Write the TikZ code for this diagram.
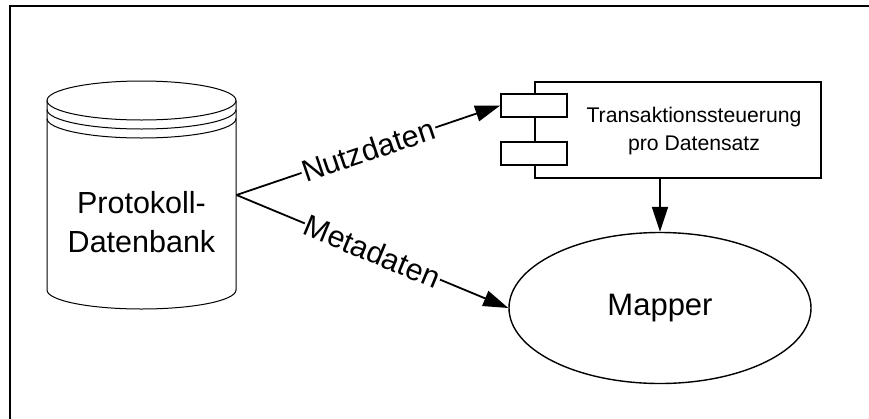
\documentclass[tikz,border=0pt]{standalone}
\usepackage{fontspec}
\setmainfont{Liberation Sans}
\usetikzlibrary{arrows.meta}
\usetikzlibrary{positioning}
\usetikzlibrary{shapes.geometric}

\tikzset{
  flow/.style={draw,line width=1.8pt,-{Triangle[length=25pt,width=16pt]}},
  flowlabel/.style={midway,sloped,fill=white,inner sep=1pt,font=\fontsize{30.5pt}{30.5pt}\selectfont},
  bigtext/.style={align=center,font=\fontsize{30.5pt}{39pt}\selectfont},
  smalltext/.style={align=center,font=\fontsize{21.2pt}{28pt}\selectfont},
  compbox/.style={draw,line width=1.8pt,fill=white,minimum width=286pt,minimum height=96pt},
  port/.style={draw,line width=1.8pt,fill=white,minimum width=66pt,minimum height=23pt},
}

\begin{document}
\begin{tikzpicture}[x=1pt,y=-1pt]

  \useasboundingbox (0,0) rectangle (869,418);
  \clip (0,0) rectangle (869,418);

  % frame
  \draw [line width=2pt] (9.5,440) |- (890,6);

  % database
  \draw [line width=1pt] (141.5,100.5) ellipse [x radius=94.5,y radius=19.5];
  \draw [line width=1pt] (47,109.5) arc [start angle=180,end angle=0,x radius=94.5,y radius=19.5];
  \draw [line width=1pt] (47,118.5) arc [start angle=180,end angle=0,x radius=94.5,y radius=19.5];
  \draw [line width=1pt] (47,100.5) -- (47,290)
    arc [start angle=180,end angle=0,x radius=94.5,y radius=19] -- (236,100.5);
  \node [bigtext] (db) at (141.5,222) {Protokoll-\\Datenbank};
  \coordinate (dbout) at (236.5,195);

  % component
  \node [compbox] (tx) at (678,130) {};
  \node [port] (tx_in)  at (tx.west |- 0,105.5) {};
  \node [port] (tx_aux) at (tx.west |- 0,153.5) {};
  \node [smalltext] (tx_text) at (694,131) {Transaktionssteuerung\\pro Datensatz};

  % mapper
  \node [draw,ellipse,line width=1.4pt,minimum width=302pt,minimum height=151pt,
         font=\fontsize{31pt}{31pt}\selectfont] (mapper) at (660,308) {Mapper};

  \path [flow] (dbout) -- (tx_in.west) node [flowlabel] (l_nutz) {Nutzdaten};
  \path [flow] (dbout) -- (mapper.west) node [flowlabel] (l_meta) {Metadaten};
  \path [flow] (tx.south -| mapper.north) -- (mapper.north);

\end{tikzpicture}
\end{document}
